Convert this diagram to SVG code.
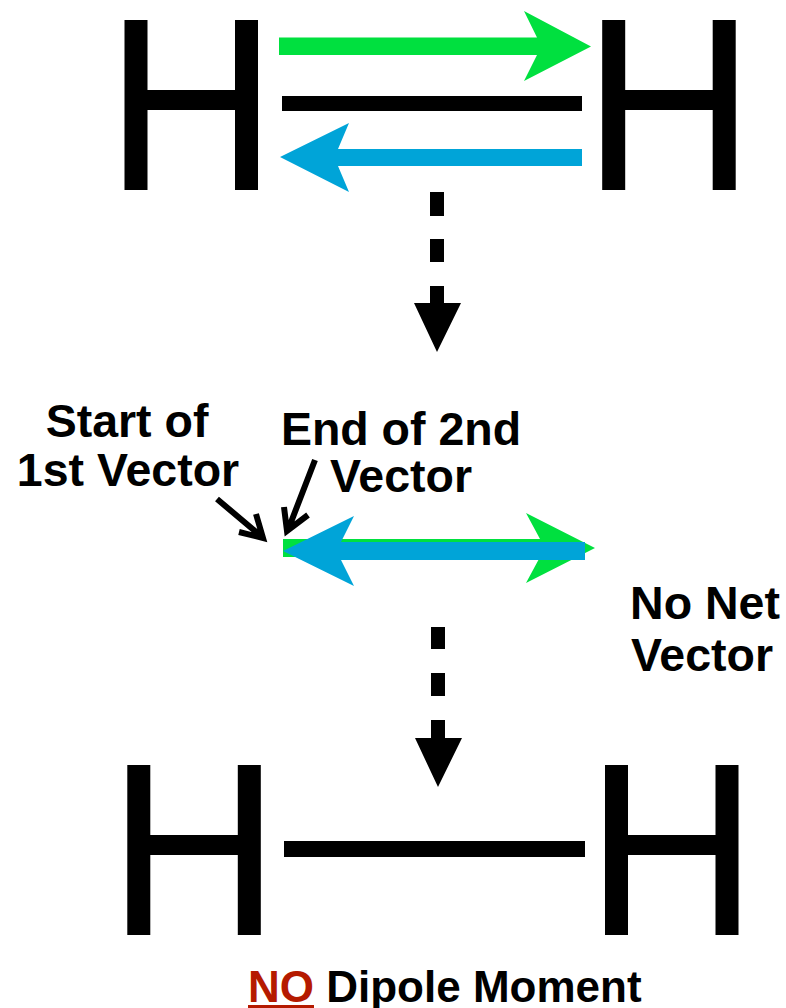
<svg xmlns="http://www.w3.org/2000/svg" width="786" height="1008" viewBox="0 0 786 1008">
<style>
.t{font-family:"Liberation Sans",Arial,sans-serif;font-weight:700;font-size:46.500px;fill:#000}
.r{font-size:44px}
.k{fill:#000}.g{fill:#00e03f}.b{fill:#00a4d8}
.p{fill:none;stroke:#000;stroke-width:6}
</style>
<defs>
<path id="H" d="M0 0H23V70H110.500V0H133.500V170H110.500V90H23V170H0Z"/>
</defs>
<rect width="786" height="1008" fill="#fff"/>
<g id="atom-top-left"><use href="#H" x="124.500" y="20" class="k"/></g>
<g id="atom-top-right"><use href="#H" x="602.200" y="20" class="k"/></g>
<g id="atom-bottom-left"><use href="#H" x="127.300" y="765" class="k"/></g>
<g id="atom-bottom-right"><use href="#H" x="605" y="765" class="k"/></g>
<g id="connectors">
<rect id="bond-top" x="282" y="96" width="300" height="15" class="k"/>
<rect id="bond-bottom" x="284" y="841" width="301" height="16" class="k"/>
<path id="green-top" class="g" d="M279 37.500H537L524 11L591 46.500L524 81L537 55H279Z"/>
<path id="blue-top" class="b" d="M280 157L349 123L338 149H582V166H338L349 192Z"/>
<path id="dash-1" class="k" d="M430 192h14v24h-14zM430 239h14v23h-14zM430 286h14v18h-14zM414 303H461L437 352Z"/>
<path id="dash-2" class="k" d="M431 627h14v22h-14zM431 673h14v23h-14zM431 720h14v19h-14zM415 738H462L438 787Z"/>
<path id="green-mid" class="g" d="M283 539H540L526 513L595 548L526 583L540 557H283Z"/>
<path id="blue-mid" class="b" d="M283 551L354 516L341 542H585V560H341L354 586Z"/>
<path id="pointer-1" class="p" d="M217 499L262 537M239 532L263 538L256 514"/>
<path id="pointer-2" class="p" d="M315 460L288 530M284 507L287 531L308 515"/>
</g>
<g id="label-start"><text class="t" x="127" y="437" text-anchor="middle">Start of</text><text class="t" x="128" y="486" text-anchor="middle">1st Vector</text></g>
<g id="label-end"><text class="t" x="401" y="445" text-anchor="middle">End of 2nd</text><text class="t" x="401" y="492" text-anchor="middle">Vector</text></g>
<g id="label-net"><text class="t" x="705" y="619" text-anchor="middle">No Net</text><text class="t" x="702" y="671" text-anchor="middle">Vector</text></g>
<g id="label-result"><text class="t r" x="248" y="1002"><tspan fill="#b51a00" text-decoration="underline">NO</tspan> Dipole Moment</text></g>
</svg>
